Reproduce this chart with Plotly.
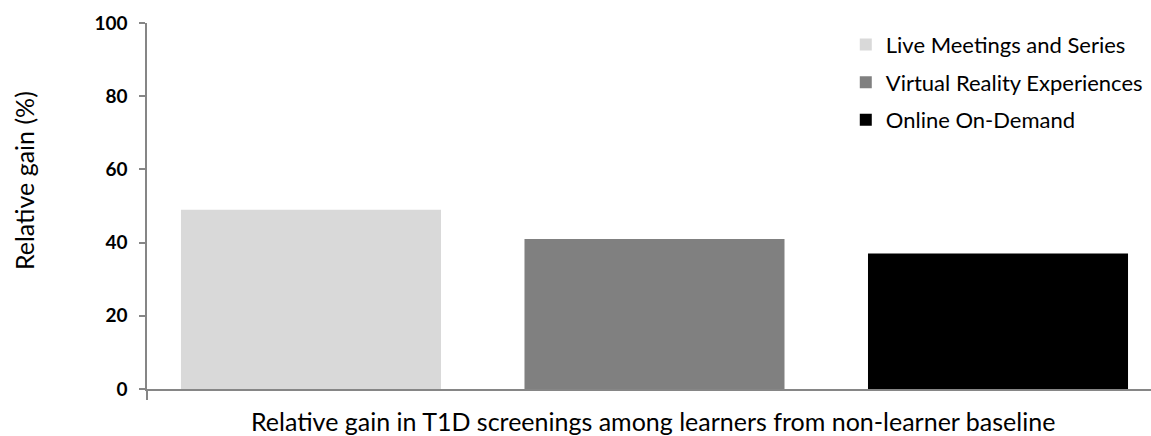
import plotly.graph_objects as go

# Relative gain by education format
series_names = ["Live Meetings and Series", "Virtual Reality Experiences", "Online On-Demand"]
gain_values = [49, 41, 37]
bar_colors = ["#d9d9d9", "#808080", "#000000"]
y_ticks = [0, 20, 40, 60, 80, 100]

FONT = "Lato, 'Open Sans', sans-serif"
X_RANGE = [-0.4774, 2.4454]

fig = go.Figure()
for i, (name, val, col) in enumerate(zip(series_names, gain_values, bar_colors)):
    fig.add_trace(go.Bar(
        x=[i], y=[val], name=name, width=0.757,
        marker=dict(color=col, line=dict(width=0)),
        legendgroup=name,
    ))

fig.update_layout(
    width=1151, height=436,
    margin=dict(l=147, r=0, t=23, b=47),
    plot_bgcolor="white", paper_bgcolor="white",
    barmode="overlay",
    showlegend=True,
    legend=dict(
        x=0.696, y=0.998, xanchor="left", yanchor="top",
        font=dict(family=FONT, size=22, color="#000000"),
        traceorder="grouped", tracegroupgap=6,
        bgcolor="rgba(0,0,0,0)",
    ),
    xaxis=dict(
        range=X_RANGE, showticklabels=False,
        tickvals=[X_RANGE[0]], ticks="outside", ticklen=9,
        tickcolor="#868686", tickwidth=1.5,
        showgrid=False, zeroline=False,
        showline=True, linecolor="#868686", linewidth=1.5,
    ),
    yaxis=dict(
        range=[0, 100], tickvals=y_ticks,
        ticks="outside", ticklen=6, tickcolor="#868686", tickwidth=1.5,
        ticklabelstandoff=8,
        tickfont=dict(family=FONT, size=19, color="#000000", weight="bold"),
        showgrid=False, zeroline=False,
        showline=True, linecolor="#868686", linewidth=1.5,
    ),
)

# y-axis caption
fig.add_annotation(
    text="Relative gain (%)", textangle=-90,
    xref="paper", yref="paper", x=0, y=0.568, xshift=-123,
    xanchor="center", yanchor="middle", showarrow=False,
    font=dict(family=FONT, size=25, color="#000000"),
)

# x-axis caption below the plot
fig.add_annotation(
    text="Relative gain in T1D screenings among learners from non-learner baseline",
    xref="paper", yref="paper", x=0.504, y=0, yshift=-32,
    xanchor="center", yanchor="middle", showarrow=False,
    font=dict(family=FONT, size=25, color="#000000"),
)

fig.write_html("out.html")
